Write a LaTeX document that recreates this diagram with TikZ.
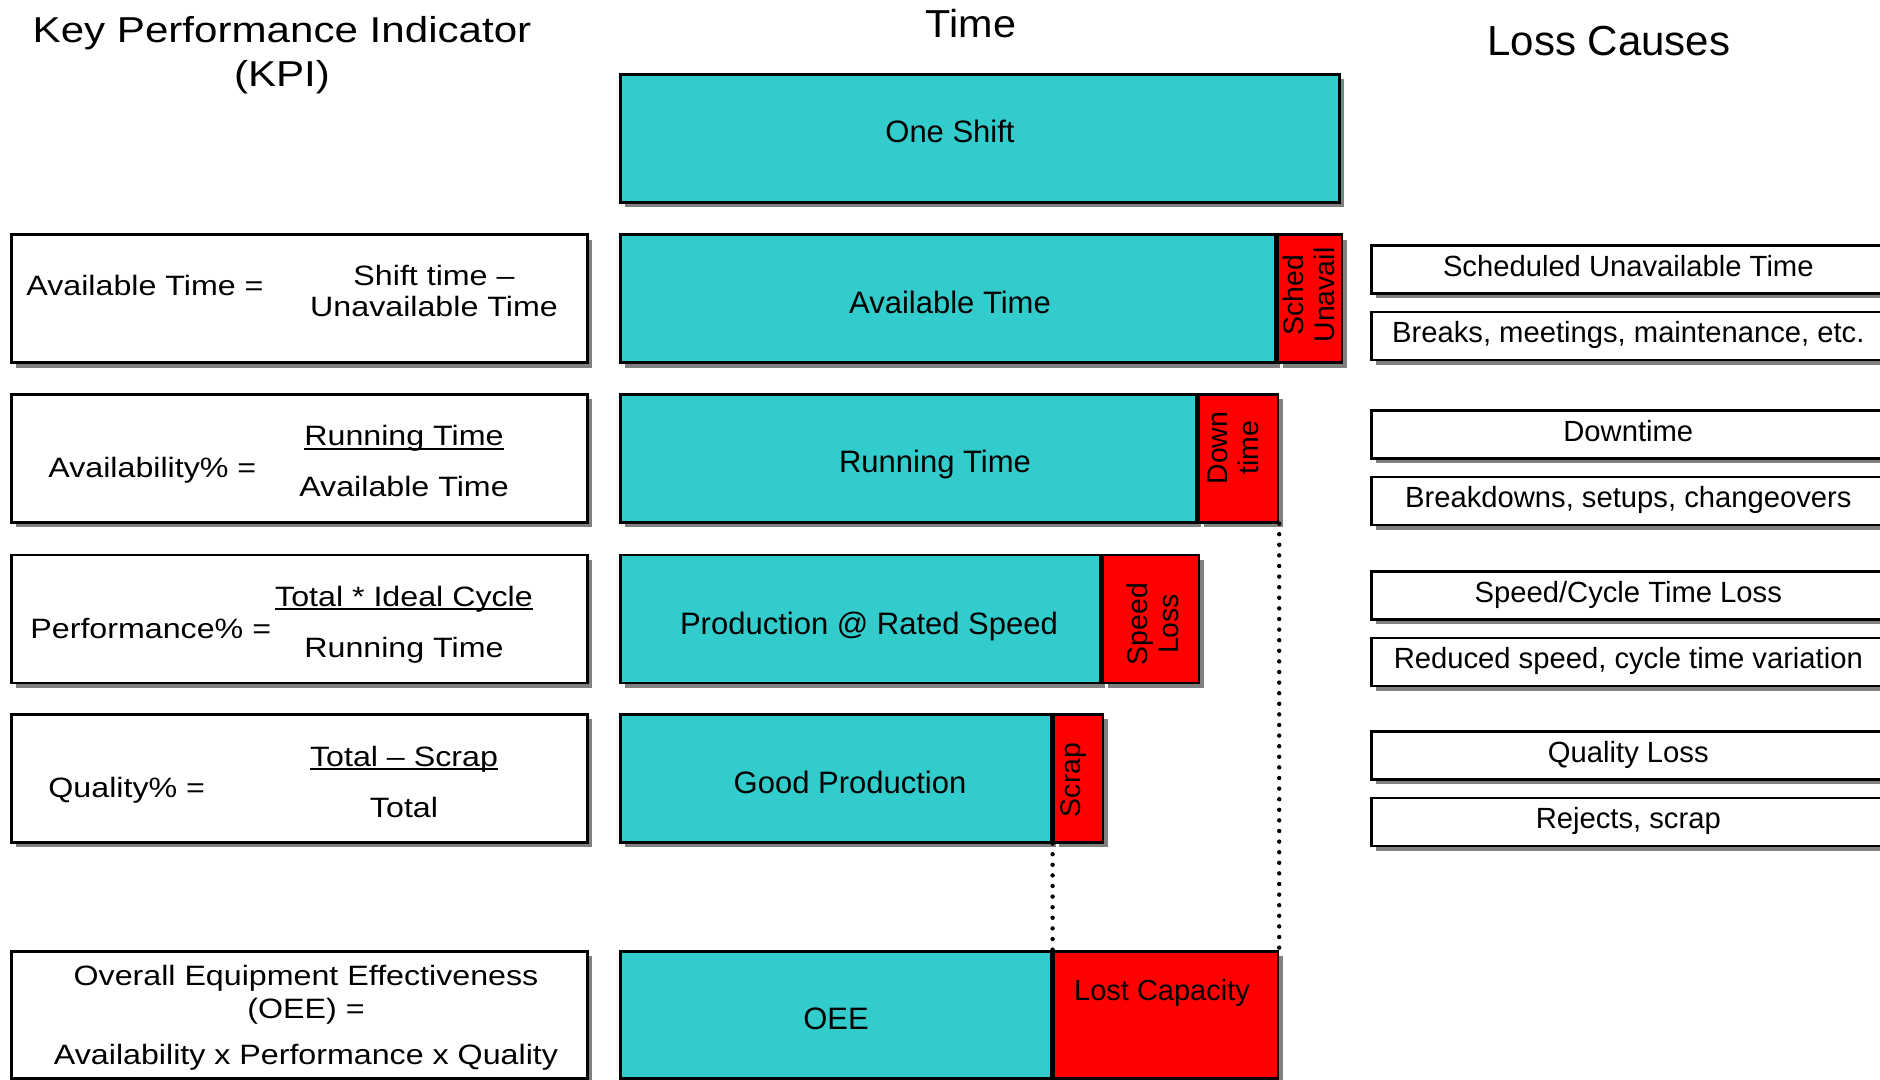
\documentclass[tikz,border=0pt]{standalone}
\usepackage{fontspec}
\setmainfont{Liberation Sans}
\newfontfamily\kpifont[FakeStretch=1.15]{Liberation Sans}
\newfontfamily\headfont[FakeStretch=1.17]{Liberation Sans}
\newfontfamily\timefont[FakeStretch=1.06]{Liberation Sans}
\usetikzlibrary{positioning,shadows}

\definecolor{oeeteal}{RGB}{51,204,204}
\definecolor{oeered}{RGB}{255,0,0}

% underlined numerator, line close to the baseline
\newcommand{\numline}[1]{\leavevmode\setbox0\hbox{#1}\rlap{\rule[-0.15em]{\wd0}{0.07em}}\box0}

\begin{document}
\begin{tikzpicture}[
  x=0.5pt, y=-0.5pt,
  shadowed/.style={drop shadow={shadow xshift=2.5pt, shadow yshift=-2.5pt, fill=black!50, opacity=1}},
  kpibox/.style={
    draw, line width=1.3pt, fill=white, shadowed, anchor=north west,
    minimum width=288pt, minimum height=64pt, inner sep=0pt
  },
  bar/.style={
    draw, line width=1.3pt, fill=oeeteal, shadowed, anchor=north west,
    minimum height=64pt, inner sep=0pt
  },
  lossbar/.style={bar, fill=oeered},
  cause/.style={
    draw, line width=1.3pt, fill=white, shadowed, anchor=north west,
    minimum width=257pt, minimum height=24pt, inner sep=0pt,
    font=\fontsize{14.6}{17}\selectfont, text height=0.85em, text depth=0.15em
  },
  kpitext/.style={font=\kpifont\fontsize{14}{17}\selectfont, anchor=base, inner sep=0pt},
  bartext/.style={font=\fontsize{15.5}{18}\selectfont, anchor=base, inner sep=0pt},
  sidetext/.style={font=\fontsize{14.2}{15.5}\selectfont, rotate=90, align=center, inner sep=0pt},
  dotgap/.style={line width=2.2pt, dash pattern=on 0pt off 5.3pt, line cap=round}
]
\useasboundingbox (0,0) rectangle (1880,1080);
\clip (0,0) rectangle (1880,1080);

% headings
\node[font=\headfont\fontsize{18}{22}\selectfont, anchor=base] (kpihead) at (282,43) {Key Performance Indicator};
\node[font=\headfont\fontsize{18}{22}\selectfont, anchor=base] (kpiabbr) at (282,87) {(KPI)};
\node[font=\timefont\fontsize{19.5}{23}\selectfont, anchor=base] (timehead) at (971,38) {Time};
\node[font=\fontsize{21}{25}\selectfont, anchor=base] (losshead) at (1609,56) {Loss Causes};

% KPI formulas
\node[kpibox] (kpiavail) at (10,233.5) {};
\node[kpitext, anchor=base west] (avlabel) at (26,296) {Available Time =};
\node[kpitext] (avtop) at (434,286) {Shift time –};
\node[kpitext] (avbot) at (434,317) {Unavailable Time};

\node[kpibox] (kpiavty) at (10,393) {};
\node[kpitext, anchor=base west] (atlabel) at (48,478) {Availability\% =};
\node[kpitext] (attop) at (404,446) {\numline{Running Time}};
\node[kpitext] (atbot) at (404,497) {Available Time};

\node[kpibox] (kpiperf) at (10,553.5) {};
\node[kpitext, anchor=base west] (pflabel) at (30,638) {Performance\% =};
\node[kpitext] (pftop) at (404,606) {\numline{Total * Ideal Cycle}};
\node[kpitext] (pfbot) at (404,657) {Running Time};

\node[kpibox] (kpiqual) at (10,713) {};
\node[kpitext, anchor=base west] (qulabel) at (48,797) {Quality\% =};
\node[kpitext] (qutop) at (404,766) {\numline{Total – Scrap}};
\node[kpitext] (qubot) at (404,817) {Total};

\node[kpibox, minimum height=63.5pt] (kpioee) at (10,950) {};
\node[kpitext] (oeel1) at (306,985) {Overall Equipment Effectiveness};
\node[kpitext] (oeel2) at (306,1018) {(OEE) =};
\node[kpitext] (oeel3) at (306,1064) {Availability x Performance x Quality};

% time bars
\node[bar, minimum width=359.5pt] (shift) at (619,73) {};
\node[bartext] (shifttxt) at (950,143) {One Shift};

\node[bar, minimum width=327.5pt] (avail) at (619,233.5) {};
\node[lossbar, minimum width=32pt, right=0pt of avail] (sched) {};
\node[bartext] (availtxt) at (950,314) {Available Time};
\node[sidetext] (schedtxt) at (1309,295) {Sched\\Unavail};

\node[bar, minimum width=288pt] (run) at (619,393) {};
\node[lossbar, minimum width=39.5pt, right=0pt of run] (down) {};
\node[bartext] (runtxt) at (935,473) {Running Time};
\node[sidetext] (downtxt) at (1233,448) {Down\\time};

\node[bar, minimum width=240pt] (prod) at (619,553.5) {};
\node[lossbar, minimum width=48pt, right=0pt of prod] (speed) {};
\node[bartext] (prodtxt) at (869,634) {Production @ Rated Speed};
\node[sidetext] (speedtxt) at (1153,624) {Speed\\Loss};

\node[bar, minimum width=215.5pt] (good) at (619,713) {};
\node[lossbar, minimum width=24.5pt, right=0pt of good] (scrap) {};
\node[bartext] (goodtxt) at (850,793) {Good Production};
\node[sidetext] (scraptxt) at (1074,780) {Scrap};

\node[bar, minimum width=215.5pt, minimum height=63.5pt] (oee) at (619,950) {};
\node[lossbar, minimum width=112pt, minimum height=63.5pt, right=0pt of oee] (lost) {};
\node[bartext] (oeetxt) at (836,1029) {OEE};
\node[bartext, font=\fontsize{14.5}{17}\selectfont] (losttxt) at (1162,1000) {Lost Capacity};

\draw[dotgap] (down.south east) -- (lost.north east);
\draw[dotgap] (scrap.south west) -- (lost.north west);

% loss causes
\node[cause] (c1) at (1370,244) {Scheduled Unavailable Time};
\node[cause, below=8pt of c1] (c2) {Breaks, meetings, maintenance, etc.};
\node[cause] (c3) at (1370,409) {Downtime};
\node[cause, below=8pt of c3] (c4) {Breakdowns, setups, changeovers};
\node[cause] (c5) at (1370,570) {Speed/Cycle Time Loss};
\node[cause, below=8pt of c5] (c6) {Reduced speed, cycle time variation};
\node[cause] (c7) at (1370,730) {Quality Loss};
\node[cause, below=8pt of c7] (c8) {Rejects, scrap};

\end{tikzpicture}
\end{document}
